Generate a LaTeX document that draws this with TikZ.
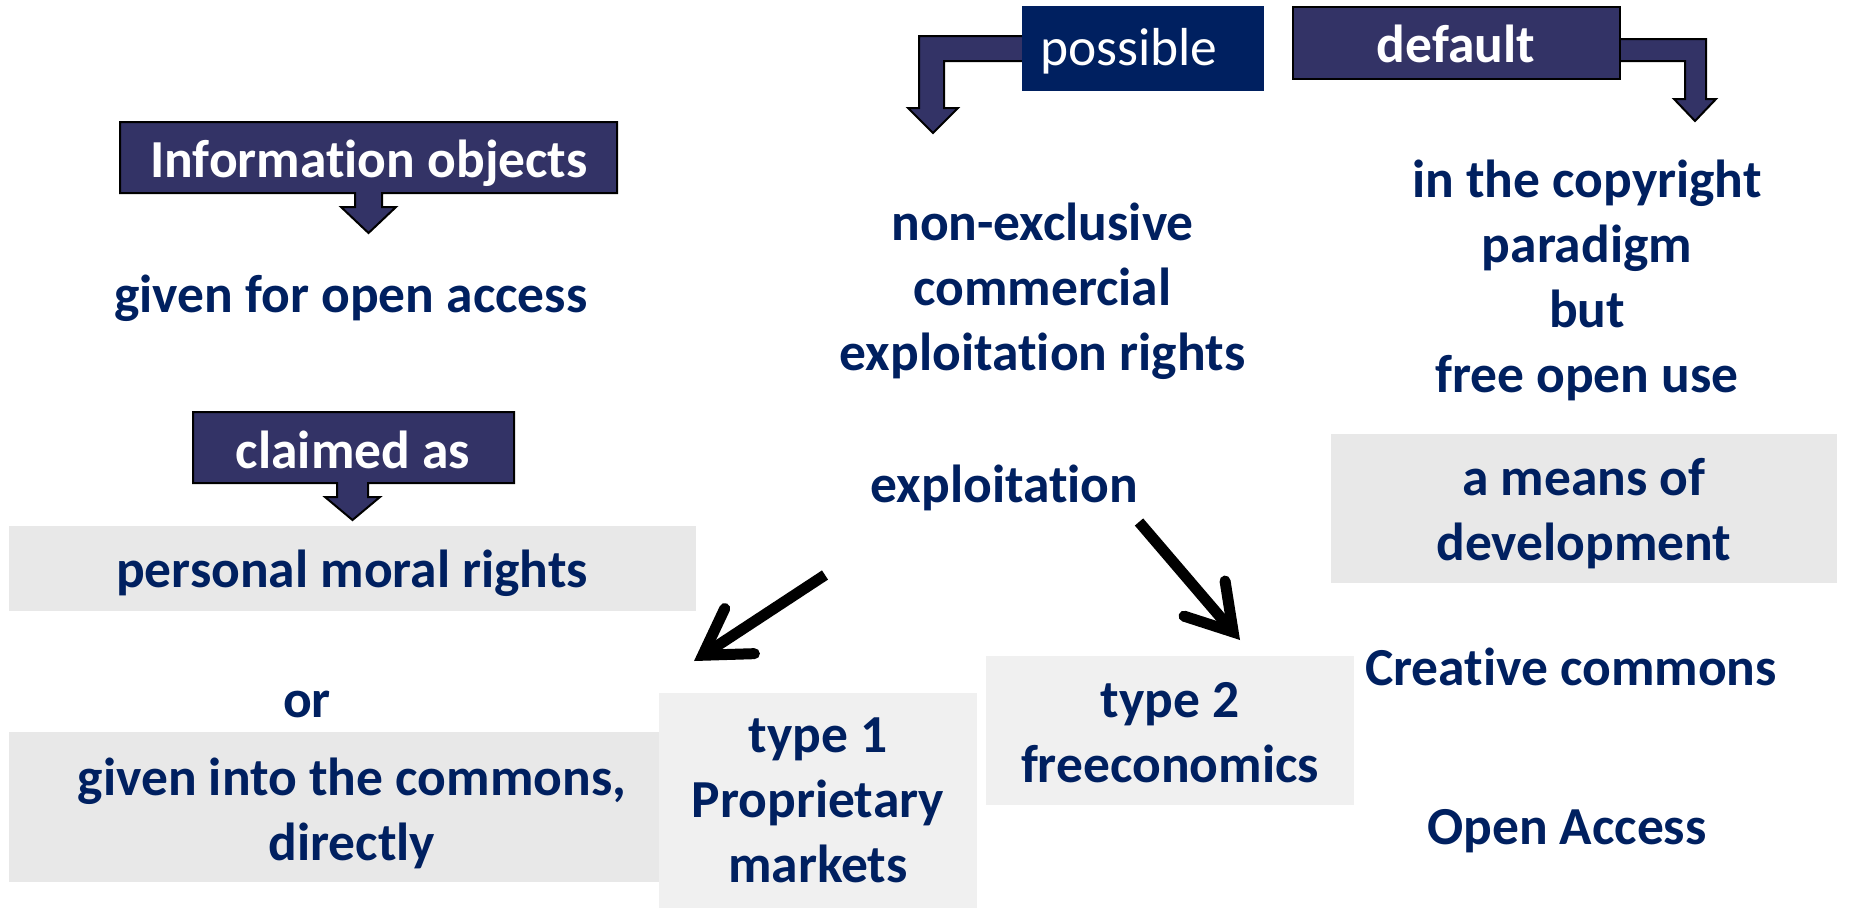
\documentclass[tikz,border=0pt]{standalone}
\usepackage{fontspec}
\setmainfont{Carlito}[Ligatures={NoCommon}]
\usetikzlibrary{arrows.meta}
\definecolor{navy}{HTML}{002060}
\definecolor{callfill}{HTML}{333366}
\definecolor{grayA}{HTML}{E8E8E8}
\definecolor{grayB}{HTML}{F0F0F0}
\begin{document}
\begin{tikzpicture}[x=1pt,y=-1pt,
  txt/.style={text=navy,font=\bfseries\fontsize{53.5}{65}\selectfont,align=center,inner sep=0pt},
  wtxt/.style={text=white,font=\bfseries\fontsize{53.5}{65}\selectfont,align=center,inner sep=0pt},
  wtxtreg/.style={text=white,font=\fontsize{53.5}{65}\selectfont,align=center,inner sep=0pt},
  callout/.style={fill=callfill,draw=black,line width=2pt,line join=miter},
  panelA/.style={fill=grayA,inner sep=0pt,outer sep=0pt},
  panelB/.style={fill=grayB,inner sep=0pt,outer sep=0pt},
  bigarrow/.style={draw=black,line width=11pt,-{Straight Barb[length=44pt,width=54pt,line cap=round,line join=miter]}}
]
\fill[white] (0,0) rectangle (1849,908);
\useasboundingbox (0,0) rectangle (1849,908);

% grey panels
\node[panelA,minimum width=687pt,minimum height=85pt] (pmrbox) at (352.5,568.5) {};
\node[panelA,minimum width=650pt,minimum height=150pt] (commonsbox) at (334,807) {};
\node[panelB,minimum width=318pt,minimum height=215pt] (typeonebox) at (818,800.5) {};
\node[panelB,minimum width=368pt,minimum height=149pt] (typetwobox) at (1170,730.5) {};
\node[panelA,minimum width=506pt,minimum height=149pt] (meansbox) at (1584,508.5) {};

% callouts
\draw[callout] (120,122) -- (617,122) -- (617,193) -- (382,193) -- (382,207) -- (396,207)
  -- (368.5,233) -- (341,207) -- (355,207) -- (355,193) -- (120,193) -- cycle;
\draw[callout] (193,412) -- (514,412) -- (514,483) -- (368,483) -- (368,497) -- (380,497)
  -- (352.5,520) -- (325,497) -- (337,497) -- (337,483) -- (193,483) -- cycle;
\draw[callout] (1030,36) -- (919,36) -- (919,108) -- (908,108) -- (933,133) -- (958,108)
  -- (944,108) -- (944,61) -- (1030,61) -- cycle;
\node[fill=navy,inner sep=0pt,minimum width=242pt,minimum height=85pt] (possiblebox) at (1143,48.5) {};
\draw[callout] (1612,39) -- (1706,39) -- (1706,99) -- (1716,99) -- (1695,121) -- (1674,99)
  -- (1685,99) -- (1685,61) -- (1612,61) -- cycle;
\node[callout,inner sep=0pt,minimum width=327pt,minimum height=72pt] (defaultbox) at (1456.5,43) {};

% texts
\node[wtxt] (infotxt) at (369,164) {\strut Information objects};
\node[wtxtreg] (possibletxt) at (1129,52) {\strut possible};
\node[wtxt] (defaulttxt) at (1456,49) {\strut default};
\node[wtxt] (claimedtxt) at (353,455) {\strut claimed as};
\node[txt] (gfoa) at (351,299) {\strut given for open access};
\node[txt] (pmr) at (352,574) {\strut personal moral rights};
\node[txt] (ortxt) at (307,704) {\strut or};
\node[txt] (commons) at (352,814.5) {\strut given into the commons,\\ \strut directly};
\node[txt] (typeone) at (818,804) {\strut type 1\\ \strut Proprietary\\ \strut markets};
\node[txt] (typetwo) at (1170,736.5) {\strut type 2\\ \strut freeconomics};
\node[txt] (nec) at (1042.5,292) {\strut non-exclusive\\ \strut commercial\\ \strut exploitation rights};
\node[txt] (expl) at (1004.5,489) {\strut exploitation};
\node[txt] (copyr) at (1587,281.5) {\strut in the copyright\\ \strut paradigm\\ \strut but\\ \strut free open use};
\node[txt] (means) at (1584,514.5) {\strut a means of\\ \strut development};
\node[txt] (creative) at (1571,672) {\strut Creative commons};
\node[txt] (openacc) at (1567,831) {\strut Open Access};

% exploitation arrows
\coordinate (leftTail) at (825,575);
\coordinate (leftTip) at (694,661);
\coordinate (rightTail) at (1139,522);
\coordinate (rightTip) at (1240,640);
\draw[bigarrow] (leftTail) -- (leftTip);
\draw[bigarrow] (rightTail) -- (rightTip);
\end{tikzpicture}
\end{document}
